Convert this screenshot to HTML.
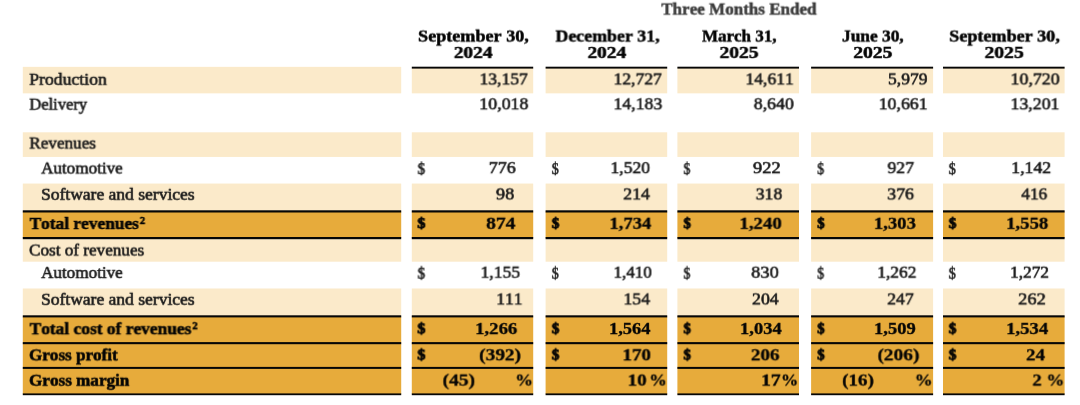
<!DOCTYPE html>
<html lang="en"><head><meta charset="utf-8"><title>Three Months Ended</title>
<style>
html,body{margin:0;padding:0;background:#fff;}
body{width:1080px;height:405px;position:relative;overflow:hidden;font-family:"Liberation Serif",serif;font-size:17px;color:#1a1a1a;font-kerning:none;}
.r,.c,.l,.k{position:absolute;}
.r{left:0;width:1080px;}
.bgl{position:absolute;left:0;top:0;}
.total{font-weight:bold;color:#050505;}
.head{color:#050505;}
.c{top:0;height:100%;}
.t{position:absolute;white-space:pre;line-height:20px;height:20px;transform-origin:0 0;}
.b{font-weight:bold;}
.t{-webkit-text-stroke:0.6px currentColor;}
.total .t,.t.b{-webkit-text-stroke-width:0.3px;}
sup{font-size:10.5px;line-height:0;vertical-align:3.9px;letter-spacing:0;margin-left:0.8px;}
</style></head><body>
<svg class="bgl" width="1080" height="405" viewBox="0 0 1080 405" aria-hidden="true">
<rect x="22.80" y="66.85" width="378.40" height="26.50" fill="#fbeaca"/>
<rect x="411.80" y="67.65" width="121.40" height="25.70" fill="#fbeaca"/>
<rect x="545.60" y="67.65" width="121.60" height="25.70" fill="#fbeaca"/>
<rect x="677.40" y="67.65" width="121.60" height="25.70" fill="#fbeaca"/>
<rect x="811.10" y="67.65" width="122.00" height="25.70" fill="#fbeaca"/>
<rect x="943.00" y="67.65" width="121.60" height="25.70" fill="#fbeaca"/>
<rect x="22.80" y="132.30" width="378.40" height="24.65" fill="#fbeaca"/>
<rect x="411.80" y="132.30" width="121.40" height="24.65" fill="#fbeaca"/>
<rect x="545.60" y="132.30" width="121.60" height="24.65" fill="#fbeaca"/>
<rect x="677.40" y="132.30" width="121.60" height="24.65" fill="#fbeaca"/>
<rect x="811.10" y="132.30" width="122.00" height="24.65" fill="#fbeaca"/>
<rect x="943.00" y="132.30" width="121.60" height="24.65" fill="#fbeaca"/>
<rect x="22.80" y="183.55" width="378.40" height="27.85" fill="#fbeaca"/>
<rect x="411.80" y="183.55" width="121.40" height="27.85" fill="#fbeaca"/>
<rect x="545.60" y="183.55" width="121.60" height="27.85" fill="#fbeaca"/>
<rect x="677.40" y="183.55" width="121.60" height="27.85" fill="#fbeaca"/>
<rect x="811.10" y="183.55" width="122.00" height="27.85" fill="#fbeaca"/>
<rect x="943.00" y="183.55" width="121.60" height="27.85" fill="#fbeaca"/>
<rect x="22.80" y="211.40" width="378.40" height="26.70" fill="#e7ab3b"/>
<rect x="411.80" y="211.40" width="121.40" height="26.70" fill="#e7ab3b"/>
<rect x="545.60" y="211.40" width="121.60" height="26.70" fill="#e7ab3b"/>
<rect x="677.40" y="211.40" width="121.60" height="26.70" fill="#e7ab3b"/>
<rect x="811.10" y="211.40" width="122.00" height="26.70" fill="#e7ab3b"/>
<rect x="943.00" y="211.40" width="121.60" height="26.70" fill="#e7ab3b"/>
<rect x="22.80" y="238.10" width="378.40" height="23.60" fill="#fbeaca"/>
<rect x="411.80" y="238.10" width="121.40" height="23.60" fill="#fbeaca"/>
<rect x="545.60" y="238.10" width="121.60" height="23.60" fill="#fbeaca"/>
<rect x="677.40" y="238.10" width="121.60" height="23.60" fill="#fbeaca"/>
<rect x="811.10" y="238.10" width="122.00" height="23.60" fill="#fbeaca"/>
<rect x="943.00" y="238.10" width="121.60" height="23.60" fill="#fbeaca"/>
<rect x="22.80" y="288.50" width="378.40" height="27.85" fill="#fbeaca"/>
<rect x="411.80" y="288.50" width="121.40" height="27.85" fill="#fbeaca"/>
<rect x="545.60" y="288.50" width="121.60" height="27.85" fill="#fbeaca"/>
<rect x="677.40" y="288.50" width="121.60" height="27.85" fill="#fbeaca"/>
<rect x="811.10" y="288.50" width="122.00" height="27.85" fill="#fbeaca"/>
<rect x="943.00" y="288.50" width="121.60" height="27.85" fill="#fbeaca"/>
<rect x="22.80" y="316.35" width="378.40" height="26.80" fill="#e7ab3b"/>
<rect x="411.80" y="316.35" width="121.40" height="26.80" fill="#e7ab3b"/>
<rect x="545.60" y="316.35" width="121.60" height="26.80" fill="#e7ab3b"/>
<rect x="677.40" y="316.35" width="121.60" height="26.80" fill="#e7ab3b"/>
<rect x="811.10" y="316.35" width="122.00" height="26.80" fill="#e7ab3b"/>
<rect x="943.00" y="316.35" width="121.60" height="26.80" fill="#e7ab3b"/>
<rect x="22.80" y="343.15" width="378.40" height="24.75" fill="#e7ab3b"/>
<rect x="411.80" y="343.15" width="121.40" height="24.75" fill="#e7ab3b"/>
<rect x="545.60" y="343.15" width="121.60" height="24.75" fill="#e7ab3b"/>
<rect x="677.40" y="343.15" width="121.60" height="24.75" fill="#e7ab3b"/>
<rect x="811.10" y="343.15" width="122.00" height="24.75" fill="#e7ab3b"/>
<rect x="943.00" y="343.15" width="121.60" height="24.75" fill="#e7ab3b"/>
<rect x="22.80" y="367.90" width="378.40" height="26.40" fill="#e7ab3b"/>
<rect x="411.80" y="367.90" width="121.40" height="26.40" fill="#e7ab3b"/>
<rect x="545.60" y="367.90" width="121.60" height="26.40" fill="#e7ab3b"/>
<rect x="677.40" y="367.90" width="121.60" height="26.40" fill="#e7ab3b"/>
<rect x="811.10" y="367.90" width="122.00" height="26.40" fill="#e7ab3b"/>
<rect x="943.00" y="367.90" width="121.60" height="26.40" fill="#e7ab3b"/>
<rect x="411.80" y="66.70" width="121.40" height="1.90" fill="#060606"/>
<rect x="545.60" y="66.70" width="121.60" height="1.90" fill="#060606"/>
<rect x="677.40" y="66.70" width="121.60" height="1.90" fill="#060606"/>
<rect x="811.10" y="66.70" width="122.00" height="1.90" fill="#060606"/>
<rect x="943.00" y="66.70" width="121.60" height="1.90" fill="#060606"/>
<rect x="22.80" y="210.30" width="378.40" height="2.20" fill="#060606"/>
<rect x="411.80" y="210.30" width="121.40" height="2.20" fill="#060606"/>
<rect x="545.60" y="210.30" width="121.60" height="2.20" fill="#060606"/>
<rect x="677.40" y="210.30" width="121.60" height="2.20" fill="#060606"/>
<rect x="811.10" y="210.30" width="122.00" height="2.20" fill="#060606"/>
<rect x="943.00" y="210.30" width="121.60" height="2.20" fill="#060606"/>
<rect x="22.80" y="237.00" width="378.40" height="2.20" fill="#060606"/>
<rect x="411.80" y="237.00" width="121.40" height="2.20" fill="#060606"/>
<rect x="545.60" y="237.00" width="121.60" height="2.20" fill="#060606"/>
<rect x="677.40" y="237.00" width="121.60" height="2.20" fill="#060606"/>
<rect x="811.10" y="237.00" width="122.00" height="2.20" fill="#060606"/>
<rect x="943.00" y="237.00" width="121.60" height="2.20" fill="#060606"/>
<rect x="22.80" y="315.30" width="378.40" height="2.10" fill="#060606"/>
<rect x="411.80" y="315.30" width="121.40" height="2.10" fill="#060606"/>
<rect x="545.60" y="315.30" width="121.60" height="2.10" fill="#060606"/>
<rect x="677.40" y="315.30" width="121.60" height="2.10" fill="#060606"/>
<rect x="811.10" y="315.30" width="122.00" height="2.10" fill="#060606"/>
<rect x="943.00" y="315.30" width="121.60" height="2.10" fill="#060606"/>
<rect x="22.80" y="342.10" width="378.40" height="2.10" fill="#060606"/>
<rect x="411.80" y="342.10" width="121.40" height="2.10" fill="#060606"/>
<rect x="545.60" y="342.10" width="121.60" height="2.10" fill="#060606"/>
<rect x="677.40" y="342.10" width="121.60" height="2.10" fill="#060606"/>
<rect x="811.10" y="342.10" width="122.00" height="2.10" fill="#060606"/>
<rect x="943.00" y="342.10" width="121.60" height="2.10" fill="#060606"/>
<rect x="22.80" y="366.90" width="378.40" height="2.00" fill="#060606"/>
<rect x="411.80" y="366.90" width="121.40" height="2.00" fill="#060606"/>
<rect x="545.60" y="366.90" width="121.60" height="2.00" fill="#060606"/>
<rect x="677.40" y="366.90" width="121.60" height="2.00" fill="#060606"/>
<rect x="811.10" y="366.90" width="122.00" height="2.00" fill="#060606"/>
<rect x="943.00" y="366.90" width="121.60" height="2.00" fill="#060606"/>
<rect x="22.80" y="393.40" width="378.40" height="1.80" fill="#060606"/>
<rect x="411.80" y="393.40" width="121.40" height="1.80" fill="#060606"/>
<rect x="545.60" y="393.40" width="121.60" height="1.80" fill="#060606"/>
<rect x="677.40" y="393.40" width="121.60" height="1.80" fill="#060606"/>
<rect x="811.10" y="393.40" width="122.00" height="1.80" fill="#060606"/>
<rect x="943.00" y="393.40" width="121.60" height="1.80" fill="#060606"/>
</svg>
<div class="r head" style="top:0;height:68px">
<div class="t b" style="left:661px;top:0px;transform:perspective(1000px) translate3d(0.30px,0.55px,0.01px) scale(1.0026,0.950);-webkit-text-stroke-width:0.5px;color:#3d3d3d;">Three Months Ended</div>
<div class="t b" style="left:418px;top:27px;transform:perspective(1000px) translate3d(0.03px,0.53px,0.01px) scale(1.0660,0.935);-webkit-text-stroke-width:0.5px;">September 30,</div>
<div class="t b" style="left:453px;top:43px;transform:perspective(1000px) translate3d(0.75px,0.92px,0.01px) scale(1.1394,0.925);-webkit-text-stroke-width:0.5px;">2024</div>
<div class="t b" style="left:555px;top:27px;transform:perspective(1000px) translate3d(0.54px,0.53px,0.01px) scale(1.0499,0.935);-webkit-text-stroke-width:0.5px;">December 31,</div>
<div class="t b" style="left:587px;top:43px;transform:perspective(1000px) translate3d(0.44px,0.92px,0.01px) scale(1.1409,0.925);-webkit-text-stroke-width:0.5px;">2024</div>
<div class="t b" style="left:702px;top:27px;transform:perspective(1000px) translate3d(0.05px,0.53px,0.01px) scale(0.9986,0.935);-webkit-text-stroke-width:0.5px;">March 31,</div>
<div class="t b" style="left:719px;top:43px;transform:perspective(1000px) translate3d(0.44px,0.92px,0.01px) scale(1.1508,0.925);-webkit-text-stroke-width:0.5px;">2025</div>
<div class="t b" style="left:842px;top:27px;transform:perspective(1000px) translate3d(0.04px,0.53px,0.01px) scale(1.0195,0.935);-webkit-text-stroke-width:0.5px;">June 30,</div>
<div class="t b" style="left:853px;top:43px;transform:perspective(1000px) translate3d(0.18px,0.92px,0.01px) scale(1.1554,0.925);-webkit-text-stroke-width:0.5px;">2025</div>
<div class="t b" style="left:949px;top:27px;transform:perspective(1000px) translate3d(0.23px,0.53px,0.01px) scale(1.0650,0.935);-webkit-text-stroke-width:0.5px;">September 30,</div>
<div class="t b" style="left:984px;top:43px;transform:perspective(1000px) translate3d(0.43px,0.92px,0.01px) scale(1.1585,0.925);-webkit-text-stroke-width:0.5px;">2025</div>
</div>
<div class="r light" style="top:68px;height:26px">
<div class="c" style="left:22px;width:380px"><div class="t" style="left:7px;top:1px;transform:perspective(1000px) translate3d(0.28px,0.80px,0.01px) scale(1.0393,1.000);">Production</div></div>
<div class="c" style="left:411px;width:123px"><div class="t" style="left:68px;top:2px;transform:perspective(1000px) translate3d(0.55px,0.40px,0.01px) scale(1.0302,0.960);">13,157</div></div>
<div class="c" style="left:545px;width:123px"><div class="t" style="left:68px;top:2px;transform:perspective(1000px) translate3d(0.50px,0.40px,0.01px) scale(1.0313,0.960);">12,727</div></div>
<div class="c" style="left:677px;width:122px"><div class="t" style="left:68px;top:2px;transform:perspective(1000px) translate3d(0.50px,0.40px,0.01px) scale(1.0316,0.960);">14,611</div></div>
<div class="c" style="left:811px;width:123px"><div class="t" style="left:77px;top:2px;transform:perspective(1000px) translate3d(0.02px,0.40px,0.01px) scale(1.0315,0.960);">5,979</div></div>
<div class="c" style="left:943px;width:122px"><div class="t" style="left:67px;top:2px;transform:perspective(1000px) translate3d(0.47px,0.40px,0.01px) scale(1.0539,0.960);">10,720</div></div>
</div>
<div class="r white" style="top:93px;height:25px">
<div class="c" style="left:22px;width:380px"><div class="t" style="left:7px;top:1px;transform:perspective(1000px) translate3d(0.31px,0.70px,0.01px) scale(0.9729,1.000);">Delivery</div></div>
<div class="c" style="left:411px;width:123px"><div class="t" style="left:68px;top:2px;transform:perspective(1000px) translate3d(0.22px,0.30px,0.01px) scale(1.0539,0.960);">10,018</div></div>
<div class="c" style="left:545px;width:123px"><div class="t" style="left:68px;top:2px;transform:perspective(1000px) translate3d(0.49px,0.30px,0.01px) scale(1.0427,0.960);">14,183</div></div>
<div class="c" style="left:677px;width:122px"><div class="t" style="left:76px;top:2px;transform:perspective(1000px) translate3d(0.77px,0.30px,0.01px) scale(1.0449,0.960);">8,640</div></div>
<div class="c" style="left:811px;width:123px"><div class="t" style="left:67px;top:2px;transform:perspective(1000px) translate3d(0.74px,0.30px,0.01px) scale(1.0429,0.960);">10,661</div></div>
<div class="c" style="left:943px;width:122px"><div class="t" style="left:67px;top:2px;transform:perspective(1000px) translate3d(0.48px,0.30px,0.01px) scale(1.0486,0.960);">13,201</div></div>
</div>
<div class="r light" style="top:132px;height:25px">
<div class="c" style="left:22px;width:380px"><div class="t" style="left:7px;top:1px;transform:perspective(1000px) translate3d(0.30px,0.55px,0.01px) scale(1.0100,1.000);">Revenues</div></div>
<div class="c" style="left:411px;width:123px"></div>
<div class="c" style="left:545px;width:123px"></div>
<div class="c" style="left:677px;width:122px"></div>
<div class="c" style="left:811px;width:123px"></div>
<div class="c" style="left:943px;width:122px"></div>
</div>
<div class="r white" style="top:156px;height:28px">
<div class="c" style="left:22px;width:380px"><div class="t" style="left:19px;top:2px;transform:perspective(1000px) translate3d(0.15px,0.55px,0.01px) scale(1.0037,1.000);">Automotive</div></div>
<div class="c" style="left:411px;width:123px"><div class="t" style="left:6px;top:4px;transform:perspective(1000px) translate3d(0.43px,0.15px,0.01px) scale(0.8966,0.930);-webkit-text-stroke-width:0.55px;">$</div><div class="t" style="left:77px;top:3px;transform:perspective(1000px) translate3d(0.74px,0.15px,0.01px) scale(1.0583,0.960);">776</div></div>
<div class="c" style="left:545px;width:123px"><div class="t" style="left:6px;top:4px;transform:perspective(1000px) translate3d(0.72px,0.15px,0.01px) scale(0.8345,0.930);-webkit-text-stroke-width:0.55px;">$</div><div class="t" style="left:65px;top:3px;transform:perspective(1000px) translate3d(0.50px,0.15px,0.01px) scale(1.0319,0.960);">1,520</div></div>
<div class="c" style="left:677px;width:122px"><div class="t" style="left:6px;top:4px;transform:perspective(1000px) translate3d(0.49px,0.15px,0.01px) scale(0.8138,0.930);-webkit-text-stroke-width:0.55px;">$</div><div class="t" style="left:76px;top:3px;transform:perspective(1000px) translate3d(0.01px,0.15px,0.01px) scale(1.0896,0.960);">922</div></div>
<div class="c" style="left:811px;width:123px"><div class="t" style="left:6px;top:4px;transform:perspective(1000px) translate3d(0.23px,0.15px,0.01px) scale(0.8207,0.930);-webkit-text-stroke-width:0.55px;">$</div><div class="t" style="left:76px;top:3px;transform:perspective(1000px) translate3d(0.53px,0.15px,0.01px) scale(1.0367,0.960);">927</div></div>
<div class="c" style="left:943px;width:122px"><div class="t" style="left:5px;top:4px;transform:perspective(1000px) translate3d(0.71px,0.15px,0.01px) scale(0.8483,0.930);-webkit-text-stroke-width:0.55px;">$</div><div class="t" style="left:68px;top:3px;transform:perspective(1000px) translate3d(0.23px,0.15px,0.01px) scale(1.0462,0.960);">1,142</div></div>
</div>
<div class="r light" style="top:183px;height:28px">
<div class="c" style="left:22px;width:380px"><div class="t" style="left:19px;top:1px;transform:perspective(1000px) translate3d(0.01px,0.80px,0.01px) scale(1.0299,1.000);">Software and services</div></div>
<div class="c" style="left:411px;width:123px"><div class="t" style="left:85px;top:2px;transform:perspective(1000px) translate3d(0.01px,0.40px,0.01px) scale(1.0730,0.960);">98</div></div>
<div class="c" style="left:545px;width:123px"><div class="t" style="left:78px;top:2px;transform:perspective(1000px) translate3d(0.26px,0.40px,0.01px) scale(1.0469,0.960);">214</div></div>
<div class="c" style="left:677px;width:122px"><div class="t" style="left:78px;top:2px;transform:perspective(1000px) translate3d(0.77px,0.40px,0.01px) scale(1.0375,0.960);">318</div></div>
<div class="c" style="left:811px;width:123px"><div class="t" style="left:76px;top:2px;transform:perspective(1000px) translate3d(0.26px,0.40px,0.01px) scale(1.0474,0.960);">376</div></div>
<div class="c" style="left:943px;width:122px"><div class="t" style="left:78px;top:2px;transform:perspective(1000px) translate3d(0.30px,0.40px,0.01px) scale(1.0162,0.960);">416</div></div>
</div>
<div class="r total" style="top:212px;height:25px">
<div class="c" style="left:22px;width:380px"><div class="t" style="left:7px;top:0px;transform:perspective(1000px) translate3d(0.54px,0.95px,0.01px) scale(1.0202,1.040);-webkit-text-stroke-width:0.55px;">Total revenues<sup>2</sup></div></div>
<div class="c" style="left:411px;width:123px"><div class="t" style="left:6px;top:3px;transform:perspective(1000px) translate3d(0.32px,0.11px,0.01px) scale(0.9600,0.836);-webkit-text-stroke-width:0.9px;">$</div><div class="t" style="left:74px;top:2px;transform:perspective(1000px) translate3d(0.97px,0.80px,0.01px) scale(1.1576,0.930);">874</div></div>
<div class="c" style="left:545px;width:123px"><div class="t" style="left:6px;top:3px;transform:perspective(1000px) translate3d(0.60px,0.11px,0.01px) scale(0.9000,0.836);-webkit-text-stroke-width:0.9px;">$</div><div class="t" style="left:64px;top:2px;transform:perspective(1000px) translate3d(0.43px,0.80px,0.01px) scale(1.0925,0.930);">1,734</div></div>
<div class="c" style="left:677px;width:122px"><div class="t" style="left:6px;top:3px;transform:perspective(1000px) translate3d(0.36px,0.11px,0.01px) scale(0.8800,0.836);-webkit-text-stroke-width:0.9px;">$</div><div class="t" style="left:62px;top:2px;transform:perspective(1000px) translate3d(0.42px,0.80px,0.01px) scale(1.1076,0.930);">1,240</div></div>
<div class="c" style="left:811px;width:123px"><div class="t" style="left:6px;top:3px;transform:perspective(1000px) translate3d(0.11px,0.11px,0.01px) scale(0.8867,0.836);-webkit-text-stroke-width:0.9px;">$</div><div class="t" style="left:62px;top:2px;transform:perspective(1000px) translate3d(0.83px,0.80px,0.01px) scale(1.0986,0.930);">1,303</div></div>
<div class="c" style="left:943px;width:122px"><div class="t" style="left:5px;top:3px;transform:perspective(1000px) translate3d(0.59px,0.11px,0.01px) scale(0.9133,0.836);-webkit-text-stroke-width:0.9px;">$</div><div class="t" style="left:63px;top:2px;transform:perspective(1000px) translate3d(0.17px,0.80px,0.01px) scale(1.1000,0.930);">1,558</div></div>
</div>
<div class="r light" style="top:239px;height:23px">
<div class="c" style="left:22px;width:380px"><div class="t" style="left:7px;top:1px;transform:perspective(1000px) translate3d(0.04px,0.55px,0.01px) scale(1.0080,1.000);">Cost of revenues</div></div>
<div class="c" style="left:411px;width:123px"></div>
<div class="c" style="left:545px;width:123px"></div>
<div class="c" style="left:677px;width:122px"></div>
<div class="c" style="left:811px;width:123px"></div>
<div class="c" style="left:943px;width:122px"></div>
</div>
<div class="r white" style="top:261px;height:28px">
<div class="c" style="left:22px;width:380px"><div class="t" style="left:19px;top:2px;transform:perspective(1000px) translate3d(0.15px,0.05px,0.01px) scale(1.0037,1.000);">Automotive</div></div>
<div class="c" style="left:411px;width:123px"><div class="t" style="left:6px;top:3px;transform:perspective(1000px) translate3d(0.43px,0.65px,0.01px) scale(0.8966,0.930);-webkit-text-stroke-width:0.55px;">$</div><div class="t" style="left:69px;top:2px;transform:perspective(1000px) translate3d(0.50px,0.65px,0.01px) scale(1.0319,0.960);">1,155</div></div>
<div class="c" style="left:545px;width:123px"><div class="t" style="left:6px;top:3px;transform:perspective(1000px) translate3d(0.72px,0.65px,0.01px) scale(0.8345,0.930);-webkit-text-stroke-width:0.55px;">$</div><div class="t" style="left:68px;top:2px;transform:perspective(1000px) translate3d(0.55px,0.65px,0.01px) scale(0.9972,0.960);">1,410</div></div>
<div class="c" style="left:677px;width:122px"><div class="t" style="left:6px;top:3px;transform:perspective(1000px) translate3d(0.49px,0.65px,0.01px) scale(0.8138,0.930);-webkit-text-stroke-width:0.55px;">$</div><div class="t" style="left:74px;top:2px;transform:perspective(1000px) translate3d(0.24px,0.65px,0.01px) scale(1.0792,0.960);">830</div></div>
<div class="c" style="left:811px;width:123px"><div class="t" style="left:6px;top:3px;transform:perspective(1000px) translate3d(0.23px,0.65px,0.01px) scale(0.8207,0.930);-webkit-text-stroke-width:0.55px;">$</div><div class="t" style="left:66px;top:2px;transform:perspective(1000px) translate3d(0.27px,0.65px,0.01px) scale(1.0210,0.960);">1,262</div></div>
<div class="c" style="left:943px;width:122px"><div class="t" style="left:5px;top:3px;transform:perspective(1000px) translate3d(0.71px,0.65px,0.01px) scale(0.8483,0.930);-webkit-text-stroke-width:0.55px;">$</div><div class="t" style="left:67px;top:2px;transform:perspective(1000px) translate3d(0.02px,0.65px,0.01px) scale(1.0182,0.960);">1,272</div></div>
</div>
<div class="r light" style="top:288px;height:28px">
<div class="c" style="left:22px;width:380px"><div class="t" style="left:19px;top:1px;transform:perspective(1000px) translate3d(0.01px,0.80px,0.01px) scale(1.0299,1.000);">Software and services</div></div>
<div class="c" style="left:411px;width:123px"><div class="t" style="left:85px;top:2px;transform:perspective(1000px) translate3d(0.26px,0.40px,0.01px) scale(1.0283,0.960);">111</div></div>
<div class="c" style="left:545px;width:123px"><div class="t" style="left:78px;top:2px;transform:perspective(1000px) translate3d(0.49px,0.40px,0.01px) scale(1.0379,0.960);">154</div></div>
<div class="c" style="left:677px;width:122px"><div class="t" style="left:75px;top:2px;transform:perspective(1000px) translate3d(0.01px,0.40px,0.01px) scale(1.0469,0.960);">204</div></div>
<div class="c" style="left:811px;width:123px"><div class="t" style="left:76px;top:2px;transform:perspective(1000px) translate3d(0.27px,0.40px,0.01px) scale(1.0371,0.960);">247</div></div>
<div class="c" style="left:943px;width:122px"><div class="t" style="left:75px;top:2px;transform:perspective(1000px) translate3d(0.24px,0.40px,0.01px) scale(1.0800,0.960);">262</div></div>
</div>
<div class="r total" style="top:317px;height:26px">
<div class="c" style="left:22px;width:380px"><div class="t" style="left:7px;top:1px;transform:perspective(1000px) translate3d(0.54px,0.20px,0.01px) scale(1.0232,1.040);-webkit-text-stroke-width:0.55px;">Total cost of revenues<sup>2</sup></div></div>
<div class="c" style="left:411px;width:123px"><div class="t" style="left:6px;top:3px;transform:perspective(1000px) translate3d(0.32px,0.36px,0.01px) scale(0.9600,0.836);-webkit-text-stroke-width:0.9px;">$</div><div class="t" style="left:64px;top:3px;transform:perspective(1000px) translate3d(0.18px,0.05px,0.01px) scale(1.1000,0.930);">1,266</div></div>
<div class="c" style="left:545px;width:123px"><div class="t" style="left:6px;top:3px;transform:perspective(1000px) translate3d(0.60px,0.36px,0.01px) scale(0.9000,0.836);-webkit-text-stroke-width:0.9px;">$</div><div class="t" style="left:63px;top:3px;transform:perspective(1000px) translate3d(0.94px,0.05px,0.01px) scale(1.0857,0.930);">1,564</div></div>
<div class="c" style="left:677px;width:122px"><div class="t" style="left:6px;top:3px;transform:perspective(1000px) translate3d(0.36px,0.36px,0.01px) scale(0.8800,0.836);-webkit-text-stroke-width:0.9px;">$</div><div class="t" style="left:62px;top:3px;transform:perspective(1000px) translate3d(0.93px,0.05px,0.01px) scale(1.0925,0.930);">1,034</div></div>
<div class="c" style="left:811px;width:123px"><div class="t" style="left:6px;top:3px;transform:perspective(1000px) translate3d(0.11px,0.36px,0.01px) scale(0.8867,0.836);-webkit-text-stroke-width:0.9px;">$</div><div class="t" style="left:62px;top:3px;transform:perspective(1000px) translate3d(0.93px,0.05px,0.01px) scale(1.0959,0.930);">1,509</div></div>
<div class="c" style="left:943px;width:122px"><div class="t" style="left:5px;top:3px;transform:perspective(1000px) translate3d(0.59px,0.36px,0.01px) scale(0.9133,0.836);-webkit-text-stroke-width:0.9px;">$</div><div class="t" style="left:63px;top:3px;transform:perspective(1000px) translate3d(0.18px,0.05px,0.01px) scale(1.0993,0.930);">1,534</div></div>
</div>
<div class="r total" style="top:344px;height:23px">
<div class="c" style="left:22px;width:380px"><div class="t" style="left:7px;top:0px;transform:perspective(1000px) translate3d(0.05px,0.40px,0.01px) scale(1.0046,1.040);-webkit-text-stroke-width:0.55px;">Gross profit</div></div>
<div class="c" style="left:411px;width:123px"><div class="t" style="left:6px;top:2px;transform:perspective(1000px) translate3d(0.32px,0.56px,0.01px) scale(0.9600,0.836);-webkit-text-stroke-width:0.9px;">$</div><div class="t" style="left:67px;top:2px;transform:perspective(1000px) translate3d(0.94px,0.25px,0.01px) scale(1.1461,0.930);">(392)</div></div>
<div class="c" style="left:545px;width:123px"><div class="t" style="left:6px;top:2px;transform:perspective(1000px) translate3d(0.60px,0.56px,0.01px) scale(0.9000,0.836);-webkit-text-stroke-width:0.9px;">$</div><div class="t" style="left:77px;top:2px;transform:perspective(1000px) translate3d(0.40px,0.25px,0.01px) scale(1.1234,0.930);">170</div></div>
<div class="c" style="left:677px;width:122px"><div class="t" style="left:6px;top:2px;transform:perspective(1000px) translate3d(0.36px,0.56px,0.01px) scale(0.8800,0.836);-webkit-text-stroke-width:0.9px;">$</div><div class="t" style="left:73px;top:2px;transform:perspective(1000px) translate3d(0.70px,0.25px,0.01px) scale(1.1299,0.930);">206</div></div>
<div class="c" style="left:811px;width:123px"><div class="t" style="left:6px;top:2px;transform:perspective(1000px) translate3d(0.11px,0.56px,0.01px) scale(0.8867,0.836);-webkit-text-stroke-width:0.9px;">$</div><div class="t" style="left:66px;top:2px;transform:perspective(1000px) translate3d(0.45px,0.25px,0.01px) scale(1.1390,0.930);">(206)</div></div>
<div class="c" style="left:943px;width:122px"><div class="t" style="left:5px;top:2px;transform:perspective(1000px) translate3d(0.59px,0.56px,0.01px) scale(0.9133,0.836);-webkit-text-stroke-width:0.9px;">$</div><div class="t" style="left:83px;top:2px;transform:perspective(1000px) translate3d(0.22px,0.25px,0.01px) scale(1.1031,0.930);">24</div></div>
</div>
<div class="r total" style="top:368px;height:26px">
<div class="c" style="left:22px;width:380px"><div class="t" style="left:7px;top:1px;transform:perspective(1000px) translate3d(0.05px,0.70px,0.01px) scale(1.0066,1.040);-webkit-text-stroke-width:0.55px;">Gross margin</div></div>
<div class="c" style="left:411px;width:123px"><div class="t" style="left:31px;top:3px;transform:perspective(1000px) translate3d(0.43px,0.55px,0.01px) scale(1.1551,0.930);">(45)</div><div class="t" style="left:104px;top:3px;transform:perspective(1000px) translate3d(0.22px,0.55px,0.01px) scale(1.0473,0.930);">%</div></div>
<div class="c" style="left:545px;width:123px"><div class="t" style="left:82px;top:3px;transform:perspective(1000px) translate3d(0.60px,0.55px,0.01px) scale(1.1200,0.930);">10</div><div class="t" style="left:104px;top:3px;transform:perspective(1000px) translate3d(0.25px,0.55px,0.01px) scale(1.0291,0.930);">%</div></div>
<div class="c" style="left:677px;width:122px"><div class="t" style="left:84px;top:3px;transform:perspective(1000px) translate3d(0.10px,0.55px,0.01px) scale(1.1574,0.930);">17</div><div class="t" style="left:104px;top:3px;transform:perspective(1000px) translate3d(0.03px,0.55px,0.01px) scale(1.0109,0.930);">%</div></div>
<div class="c" style="left:811px;width:123px"><div class="t" style="left:30px;top:3px;transform:perspective(1000px) translate3d(0.95px,0.55px,0.01px) scale(1.1271,0.930);">(16)</div><div class="t" style="left:103px;top:3px;transform:perspective(1000px) translate3d(0.72px,0.55px,0.01px) scale(1.0473,0.930);">%</div></div>
<div class="c" style="left:943px;width:122px"><div class="t" style="left:89px;top:3px;transform:perspective(1000px) translate3d(0.48px,0.55px,0.01px) scale(1.0929,0.930);">2</div><div class="t" style="left:103px;top:3px;transform:perspective(1000px) translate3d(0.47px,0.55px,0.01px) scale(1.0473,0.930);">%</div></div>
</div>
</body></html>
